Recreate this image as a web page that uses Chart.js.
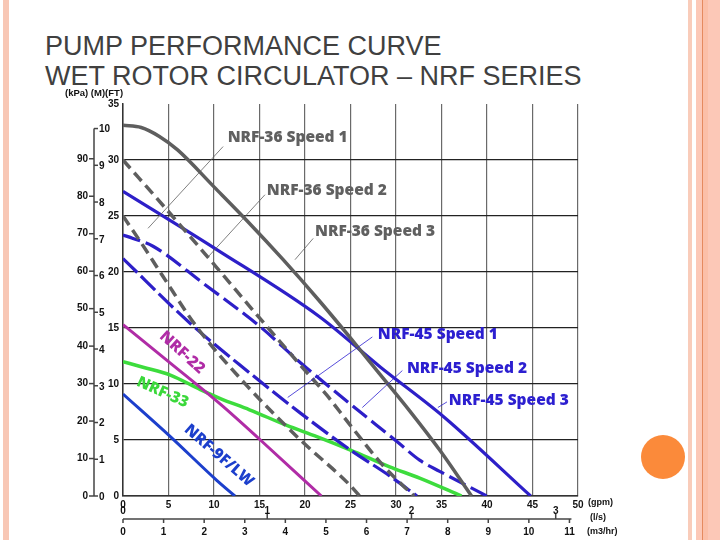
<!DOCTYPE html>
<html>
<head>
<meta charset="utf-8">
<script src="https://cdn.jsdelivr.net/npm/chart.js@4.4.1/dist/chart.umd.min.js"></script>
<style>
  html, body { margin: 0; padding: 0; background: #fff; }
  body { width: 720px; height: 540px; position: relative; overflow: hidden; }
  #chart { position: absolute; left: 0; top: 0; }
  .title { position: absolute; left: 45px; font: 27px "Liberation Sans", Arial, sans-serif; line-height: 30px; color: #404040; white-space: nowrap; }
  .deco { position: absolute; top: 0; height: 540px; }
</style>
</head>
<body>
<div class="deco" style="left:3px;width:6px;background:#f8c7b5"></div>
<div class="deco" style="left:688px;width:4px;background:#f9ccba"></div>
<div class="deco" style="left:696px;width:24px;background:#fcc8b7"></div>
<div class="deco" style="left:702px;width:1px;background:#e58a5f"></div>
<div class="deco" style="left:703px;width:5px;background:#fbbfa8"></div>
<div style="position:absolute;left:641px;top:435px;width:44px;height:44px;border-radius:50%;background:#fb8a3a"></div>
<div class="title" style="top:31px">PUMP PERFORMANCE CURVE</div>
<div class="title" style="top:61px">WET ROTOR CIRCULATOR – NRF SERIES</div>
<canvas id="chart" width="720" height="540"></canvas>
<script>
// flow in gpm, head in ft
const nrf36s3Flow = [0, 2, 4, 6, 10, 13.6, 17.6, 21.5, 24.9, 28.2, 31.5, 34.8, 38.3];
const nrf36s3Head = [33.1, 32.9, 32.1, 30.9, 27.6, 24.6, 21.1, 17.5, 14.2, 10.9, 7.6, 4.1, 0];
const nrf36s2Flow = [0, 5.2, 10.3, 15, 19.8, 22.4, 24.9, 28.6, 30.8, 32];
const nrf36s2Head = [30, 25.2, 20.4, 15.9, 11.4, 9.0, 6.4, 2.7, 0.9, 0];
const nrf36s1Flow = [0, 2, 4.4, 8.1, 13.9, 19.5, 24.9, 26];
const nrf36s1Head = [25, 22.6, 19.6, 15.1, 9.6, 5.0, 1.0, 0];

const nrf45s3Flow = [0, 10.3, 21.6, 28.3, 35.2, 44.8];
const nrf45s3Head = [27.2, 22.0, 16.0, 11.5, 7.1, 0];
const nrf45s2Flow = [0, 1.1, 3.3, 8.8, 15.1, 19.5, 25, 30.2, 32.6, 34.8, 40];
const nrf45s2Head = [23.3, 23.0, 22.3, 19.0, 15.1, 11.9, 8.2, 4.8, 3.2, 2.2, 0];
const nrf45s1Flow = [0, 7.4, 13.9, 19.5, 25, 29.3, 32.3];
const nrf45s1Head = [21.2, 15.4, 11.0, 7.4, 4.1, 1.8, 0];

const nrf22Flow = [0, 5, 10.7, 15.1, 21.8];
const nrf22Head = [15.3, 12.0, 8.2, 5.0, 0];
const nrf33Flow = [0, 2.2, 5.2, 8.5, 10.7, 13.9, 18, 21.3, 25, 29.3, 32.6, 37.2];
const nrf33Head = [12.0, 11.5, 10.8, 9.5, 8.7, 7.7, 6.3, 5.3, 4.1, 2.6, 1.6, 0];
const nrf9Flow = [0, 5.2, 10.3, 12.3];
const nrf9Head = [9.1, 5.3, 1.4, 0];

// axis ticks
const gpmMax = 50, ftMax = 35;
const kpaTicks = [0, 10, 20, 30, 40, 50, 60, 70, 80, 90];
const mTicks = [0, 1, 2, 3, 4, 5, 6, 7, 8, 9, 10];
const lsTicks = [0, 1, 2, 3];
const m3Ticks = [0, 1, 2, 3, 4, 5, 6, 7, 8, 9, 10, 11];
const KPA_PER_FT = 2.989, M_PER_FT = 0.3048, GPM_PER_LS = 15.85, GPM_PER_M3H = 4.46;

// curve names with anchor (gpm, ft) and leader line
const curveLabels = [
  { text: 'NRF-36 Speed 1', at: [11.5, 32.0], leader: [[2.75, 23.9], [11.0, 31.2]], color: '#606060' },
  { text: 'NRF-36 Speed 2', at: [15.8, 27.3], leader: [[9.3, 21.3], [15.6, 26.9]], color: '#606060' },
  { text: 'NRF-36 Speed 3', at: [21.1, 23.6], leader: [[18.9, 21.1], [20.9, 23.0]], color: '#606060' },
  { text: 'NRF-45 Speed 1', at: [28.0, 14.4], leader: [[18.1, 8.8], [27.4, 14.2]], color: '#2c1fd0' },
  { text: 'NRF-45 Speed 2', at: [31.2, 11.4], leader: [[26.3, 7.9], [30.7, 11.2]], color: '#2c1fd0' },
  { text: 'NRF-45 Speed 3', at: [35.8, 8.5], leader: [[34.6, 7.9], [35.6, 8.4]], color: '#2c1fd0' }
];
const slantLabels = [
  { text: 'NRF-22', at: [6.5, 12.8], angle: 42, color: '#b02ca6' },
  { text: 'NRF-33', at: [4.35, 9.25], angle: 24, color: '#3bd83b' },
  { text: 'NRF-9F/LW', at: [10.55, 3.6], angle: 41, color: '#1c3fcc' }
];

const pts = (f, h) => f.map((v, i) => ({ x: v, y: h[i] }));
const curve = (label, f, h, color, width, dash) => ({
  label, data: pts(f, h), showLine: true, borderColor: color, borderWidth: width,
  borderDash: dash || [], pointRadius: 0, cubicInterpolationMode: 'monotone', fill: false
});

const GRAY = '#5e5e5e', BLUE = '#2d1fc8';
const tickFont = { family: '"Liberation Sans", Arial, sans-serif', size: 10, weight: 'bold' };

const sideAxes = {
  id: 'sideAxes',
  afterDraw(chart) {
    const { ctx, chartArea: a, scales: { x, y } } = chart;
    const line = (x1, y1, x2, y2) => { ctx.beginPath(); ctx.moveTo(x1, y1); ctx.lineTo(x2, y2); ctx.stroke(); };
    ctx.save();
    ctx.strokeStyle = '#444';
    ctx.fillStyle = '#111';
    ctx.lineWidth = 1.5;
    ctx.font = 'bold 10px "Liberation Sans", Arial, sans-serif';
    ctx.textBaseline = 'middle';

    // kPa / m axis
    const ax = a.left - 29;
    line(ax, y.getPixelForValue(mTicks[mTicks.length - 1] / M_PER_FT), ax, a.bottom);
    ctx.textAlign = 'right';
    kpaTicks.forEach(v => {
      const py = y.getPixelForValue(v / KPA_PER_FT);
      line(ax - 5, py, ax, py);
      ctx.fillText(String(v), ax - 6, py);
    });
    ctx.textAlign = 'left';
    mTicks.forEach(v => {
      const py = y.getPixelForValue(v / M_PER_FT);
      line(ax, py, ax + 4, py);
      ctx.fillText(String(v), ax + 5, py + 1);
    });
    ctx.font = 'bold 9.5px "Liberation Sans", Arial, sans-serif';
    ctx.fillText('(kPa) (M)(FT)', a.left - 58, a.top - 11);

    // l/s and m3/hr axes under the gpm scale
    ctx.font = 'bold 10px "Liberation Sans", Arial, sans-serif';
    const ly = a.bottom + 23;
    line(x.getPixelForValue(0), ly, x.getPixelForValue(m3Ticks[m3Ticks.length - 1] * GPM_PER_M3H) + 2, ly);
    ctx.textAlign = 'center';
    lsTicks.forEach(v => {
      const px = x.getPixelForValue(v * GPM_PER_LS);
      if (v > 0) line(px, ly - 5, px, ly);
      ctx.fillText(String(v), px, a.bottom + 15);
    });
    m3Ticks.forEach(v => {
      const px = x.getPixelForValue(v * GPM_PER_M3H);
      line(px, ly, px, ly + 4);
      ctx.fillText(String(v), px, a.bottom + 36);
    });
    ctx.textAlign = 'left';
    ctx.font = 'bold 9px "Liberation Sans", Arial, sans-serif';
    ctx.fillText('(gpm)', a.right + 10, a.bottom + 7);
    ctx.fillText('(l/s)', a.right + 12, a.bottom + 22);
    ctx.fillText('(m3/hr)', a.right + 9, a.bottom + 36);

    // curve labels with thin leader lines
    ctx.lineWidth = 0.8;
    ctx.font = '800 15.5px "Open Sans", sans-serif';
    curveLabels.forEach(l => {
      ctx.strokeStyle = l.color;
      const [p, q] = l.leader;
      line(x.getPixelForValue(p[0]), y.getPixelForValue(p[1]), x.getPixelForValue(q[0]), y.getPixelForValue(q[1]));
      ctx.fillStyle = l.color;
      ctx.fillText(l.text, x.getPixelForValue(l.at[0]), y.getPixelForValue(l.at[1]));
    });
    ctx.textAlign = 'center';
    slantLabels.forEach(l => {
      ctx.save();
      ctx.translate(x.getPixelForValue(l.at[0]), y.getPixelForValue(l.at[1]));
      ctx.rotate(l.angle * Math.PI / 180);
      ctx.fillStyle = l.color;
      ctx.fillText(l.text, 0, 0);
      ctx.restore();
    });
    ctx.restore();
  }
};

new Chart(document.getElementById('chart'), {
  type: 'scatter',
  data: {
    datasets: [
      curve('NRF-36 Speed 3', nrf36s3Flow, nrf36s3Head, GRAY, 3.5),
      curve('NRF-36 Speed 2', nrf36s2Flow, nrf36s2Head, GRAY, 3.5, [11, 6]),
      curve('NRF-36 Speed 1', nrf36s1Flow, nrf36s1Head, GRAY, 3.5, [11, 6]),
      curve('NRF-45 Speed 3', nrf45s3Flow, nrf45s3Head, BLUE, 3.2),
      curve('NRF-45 Speed 2', nrf45s2Flow, nrf45s2Head, BLUE, 3.2, [18, 6]),
      curve('NRF-45 Speed 1', nrf45s1Flow, nrf45s1Head, BLUE, 3.2, [20, 5]),
      curve('NRF-22', nrf22Flow, nrf22Head, '#b02ca6', 3),
      curve('NRF-33', nrf33Flow, nrf33Head, '#3ddc3d', 3.5),
      curve('NRF-9F/LW', nrf9Flow, nrf9Head, '#1c3fcc', 3)
    ]
  },
  options: {
    responsive: false,
    animation: false,
    layout: { padding: { left: 100, right: 142, top: 104, bottom: 28 } },
    plugins: { legend: { display: false }, tooltip: { enabled: false } },
    scales: {
      x: {
        type: 'linear', min: 0, max: gpmMax,
        ticks: { stepSize: 5, autoSkip: false, maxRotation: 0, padding: 3, color: '#111', font: tickFont },
        grid: { color: '#6a6a6a', lineWidth: 1.2, drawTicks: false },
        border: { color: '#333', width: 1.5 },
        afterFit: s => { s.height = 16; }
      },
      y: {
        type: 'linear', min: 0, max: ftMax,
        ticks: { stepSize: 5, padding: 4, color: '#111', font: tickFont },
        grid: { color: c => (c.tick && c.tick.value === ftMax ? 'rgba(0,0,0,0)' : '#222'), lineWidth: 1.2, drawTicks: false },
        border: { color: '#333', width: 1.5 },
        afterFit: s => { s.width = 23; }
      }
    }
  },
  plugins: [sideAxes]
});
</script>
</body>
</html>
